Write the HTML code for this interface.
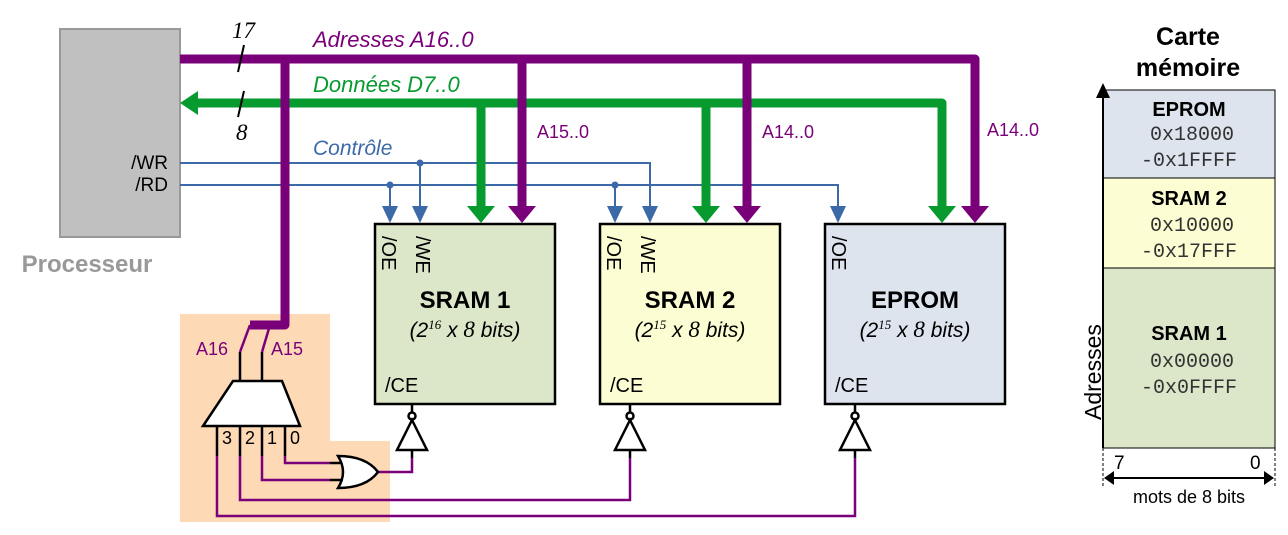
<!DOCTYPE html>
<html><head><meta charset="utf-8"><style>
body{margin:0;background:#fff}
svg{display:block;font-family:"Liberation Sans",sans-serif}
</style></head><body>
<svg width="1288" height="535" viewBox="0 0 1288 535" xmlns="http://www.w3.org/2000/svg">
<!-- orange area -->
<path d="M180 314 H330 V441 H390 V522 H180 Z" fill="#fdd9b5"/>
<!-- processor -->
<rect x="60" y="29" width="120" height="208" fill="#c0c0c0" stroke="#999" stroke-width="2"/>
<text x="168" y="169" font-size="19" text-anchor="end">/WR</text>
<text x="168" y="191" font-size="19" text-anchor="end">/RD</text>
<text x="87" y="272" font-size="24" font-weight="bold" fill="#999" text-anchor="middle">Processeur</text>

<!-- boxes -->
<rect x="375" y="224" width="180" height="180" fill="#dce6c9" stroke="#000" stroke-width="2.5"/>
<rect x="600" y="224" width="180" height="180" fill="#fdfdd3" stroke="#000" stroke-width="2.5"/>
<rect x="825" y="224" width="180" height="180" fill="#dde4ee" stroke="#000" stroke-width="2.5"/>
<g font-size="24" font-weight="bold" text-anchor="middle">
<text x="465" y="308">SRAM 1</text><text x="690" y="308">SRAM 2</text><text x="915" y="308">EPROM</text></g>
<g font-size="21" font-style="italic" text-anchor="middle">
<text x="465" y="337">(2<tspan style="font-family:'Liberation Serif',serif" font-size="13" dy="-8">16</tspan><tspan dy="8"> x </tspan><tspan style="font-family:'Liberation Serif',serif" font-size="23">8</tspan> bits)</text>
<text x="690" y="337">(2<tspan style="font-family:'Liberation Serif',serif" font-size="13" dy="-8">15</tspan><tspan dy="8"> x </tspan><tspan style="font-family:'Liberation Serif',serif" font-size="23">8</tspan> bits)</text>
<text x="915" y="337">(2<tspan style="font-family:'Liberation Serif',serif" font-size="13" dy="-8">15</tspan><tspan dy="8"> x </tspan><tspan style="font-family:'Liberation Serif',serif" font-size="23">8</tspan> bits)</text></g>
<g font-size="20">
<text x="385" y="392">/CE</text><text x="610" y="392">/CE</text><text x="835" y="392">/CE</text>
<text transform="translate(382,236) rotate(90)">/OE</text>
<text transform="translate(416,236) rotate(90)">/WE</text>
<text transform="translate(607,236) rotate(90)">/OE</text>
<text transform="translate(641,236) rotate(90)">/WE</text>
<text transform="translate(832,236) rotate(90)">/OE</text>
</g>

<!-- control lines -->
<g stroke="#3c6aa8" stroke-width="2" fill="none">
<path d="M180 163 H650 V210"/>
<path d="M180 185 H838 V210"/>
<path d="M420 163 V210"/><path d="M390 185 V210"/><path d="M615 185 V210"/>
</g>
<g fill="#3c6aa8">
<circle cx="420" cy="163" r="3.5"/><circle cx="390" cy="185" r="3.5"/><circle cx="615" cy="185" r="3.5"/>
<path d="M382 206 H398 L390 223Z"/><path d="M412 206 H428 L420 223Z"/>
<path d="M607 206 H623 L615 223Z"/><path d="M642 206 H658 L650 223Z"/>
<path d="M830 206 H846 L838 223Z"/>
</g>
<text x="313" y="155" font-size="21" font-style="italic" fill="#3c6aa8">Contrôle</text>

<!-- data bus -->
<g stroke="#079a2f" stroke-width="9" fill="none" stroke-linejoin="round">
<path d="M195 103 H942 V208"/><path d="M481 103 V208"/><path d="M706 103 V208"/>
</g>
<g fill="#079a2f">
<path d="M180 103 L198 91 V115Z"/>
<path d="M467 206 H495 L481 223Z"/><path d="M692 206 H720 L706 223Z"/><path d="M928 206 H956 L942 223Z"/>
</g>
<text x="313" y="92" font-size="22" font-style="italic" fill="#079a2f">Données D7..0</text>

<!-- address bus -->
<g stroke="#7a007a" stroke-width="9" fill="none" stroke-linejoin="round">
<path d="M180 59 H975 V208"/><path d="M522 59 V208"/><path d="M747 59 V208"/>
<path d="M285 59 V325 H250"/>
</g>
<g fill="#7a007a">
<path d="M508 206 H536 L522 223Z"/><path d="M733 206 H761 L747 223Z"/><path d="M961 206 H989 L975 223Z"/>
</g>
<text x="313" y="47" font-size="22" font-style="italic" fill="#7a007a">Adresses A16..0</text>
<g font-size="18" fill="#7a007a">
<text x="537" y="138">A15..0</text><text x="762" y="138">A14..0</text><text x="987" y="136">A14..0</text>
<text x="196" y="355">A16</text><text x="271" y="355">A15</text>
</g>
<g stroke="#7a007a" stroke-width="2.5"><path d="M250 325 L240 352"/><path d="M270 325 L262 352"/></g>
<!-- bus width marks -->
<g stroke="#000" stroke-width="2"><path d="M244 45 L238 72"/><path d="M244 91 L238 117"/></g>
<g style="font-family:'Liberation Serif',serif" font-style="italic" font-size="23">
<text x="232" y="38">17</text><text x="236" y="140">8</text></g>

<!-- decoder -->
<g stroke="#000" stroke-width="2.5" fill="none">
<path d="M240 352 V381"/><path d="M262 352 V381"/>
<path d="M233 381 H282 L300 426 H203 Z" fill="#fff"/>
<path d="M217 426 V456"/><path d="M240 426 V456"/><path d="M262 426 V456"/><path d="M285 426 V456"/>
</g>
<g font-size="18"><text x="222" y="444">3</text><text x="245" y="444">2</text><text x="267" y="444">1</text><text x="290" y="444">0</text></g>
<g stroke="#7a007a" stroke-width="2.5" fill="none">
<path d="M285 456 V463 H330"/><path d="M262 456 V480 H330"/>
<path d="M240 456 V500 H630 V458"/><path d="M217 456 V516 H855 V458"/>
<path d="M378 472 H412 V458"/>
</g>
<!-- OR gate -->
<g stroke="#000" stroke-width="2.5" fill="none">
<path d="M330 463 H345"/><path d="M330 480 H343"/>
<path d="M338 456 Q366 456 378 472 Q366 488 338 488 Q348 472 338 456Z" fill="#fff"/>
</g>
<!-- inverters -->
<g stroke="#000" stroke-width="2.5" fill="#fff">
<path d="M412 404 V412"/><circle cx="412" cy="416" r="3.5"/><path d="M412 420 L427 450 H397 Z"/><path d="M412 450 V458"/>
<path d="M630 404 V412"/><circle cx="630" cy="416" r="3.5"/><path d="M630 420 L645 450 H615 Z"/><path d="M630 450 V458"/>
<path d="M855 404 V412"/><circle cx="855" cy="416" r="3.5"/><path d="M855 420 L870 450 H840 Z"/><path d="M855 450 V458"/>
</g>

<!-- memory map -->
<text x="1188" y="45" font-size="25" font-weight="bold" text-anchor="middle">Carte</text>
<text x="1188" y="76" font-size="25" font-weight="bold" text-anchor="middle">mémoire</text>
<rect x="1103" y="90" width="172" height="88" fill="#dde4ee" stroke="#000" stroke-width="1"/>
<rect x="1103" y="178" width="172" height="90" fill="#fdfdd3" stroke="#000" stroke-width="1"/>
<rect x="1103" y="268" width="172" height="180" fill="#dce6c9" stroke="#000" stroke-width="1"/>
<path d="M1103 448 V92" stroke="#000" stroke-width="2"/>
<path d="M1096 98 L1103 83 L1110 98Z" fill="#000"/>
<g font-size="20" font-weight="bold" text-anchor="middle">
<text x="1189" y="116">EPROM</text><text x="1189" y="205">SRAM 2</text><text x="1189" y="340">SRAM 1</text></g>
<g font-size="20" text-anchor="middle" fill="#333" style="font-family:'Liberation Mono',monospace">
<text x="1192" y="140">0x18000</text><text x="1189" y="166">-0x1FFFF</text>
<text x="1192" y="231">0x10000</text><text x="1189" y="257">-0x17FFF</text>
<text x="1192" y="367">0x00000</text><text x="1189" y="393">-0x0FFFF</text>
</g>
<text transform="translate(1101,420) rotate(-90)" font-size="23">Adresses</text>
<g stroke="#000" stroke-width="1" stroke-dasharray="3,2"><path d="M1103 448 V486"/><path d="M1275 448 V486"/></g>
<path d="M1110 478 H1268" stroke="#000" stroke-width="2"/>
<path d="M1104 478 L1114 471 V485Z M1274 478 L1264 471 V485Z" fill="#000"/>
<g font-size="19"><text x="1114" y="469">7</text><text x="1250" y="469">0</text></g>
<text x="1189" y="503" font-size="18" text-anchor="middle">mots de 8 bits</text>
</svg>
</body></html>
